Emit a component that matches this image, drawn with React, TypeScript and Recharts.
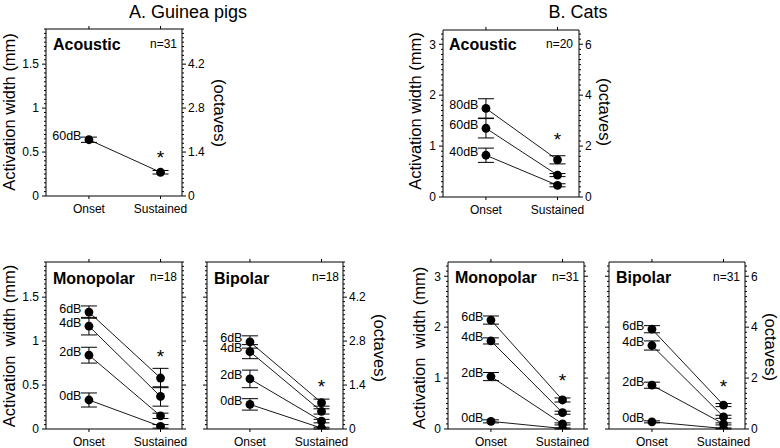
import React from 'react';
import { LineChart, Line, XAxis, YAxis, ErrorBar, LabelList, ReferenceDot } from 'recharts';

const FONT = '"Liberation Sans", Arial, Helvetica, sans-serif';

// ---------- shared categories / ticks ----------
const categories = ['Onset', 'Sustained'];
const xPositions = [1, 2];
const gpMmTicks = [0, 0.5, 1, 1.5];
const gpOctTicks = [0, 1.4, 2.8, 4.2];
const catMmTicks = [0, 1, 2, 3];
const catOctTicks = [0, 2, 4, 6];

// ---------- A. Guinea pigs: Acoustic ----------
const gpAcLevels = ['60dB'];
const gpAcOnset = [0.64];
const gpAcOnsetErr = [0.03];
const gpAcSust = [0.27];
const gpAcSustErr = [0.02];
const gpAcStar = 0.49;

// ---------- A. Guinea pigs: Monopolar ----------
const gpMonoLevels = ['6dB', '4dB', '2dB', '0dB'];
const gpMonoOnset = [1.33, 1.17, 0.84, 0.33];
const gpMonoOnsetErr = [0.07, 0.1, 0.09, 0.08];
const gpMonoSust = [0.58, 0.37, 0.15, 0.03];
const gpMonoSustErr = [0.11, 0.11, 0.03, 0.02];
const gpMonoStar = 0.88;

// ---------- A. Guinea pigs: Bipolar ----------
const gpBipLevels = ['6dB', '4dB', '2dB', '0dB'];
const gpBipOnset = [0.99, 0.88, 0.57, 0.28];
const gpBipOnsetErr = [0.07, 0.08, 0.1, 0.065];
const gpBipSust = [0.3, 0.2, 0.09, 0.01];
const gpBipSustErr = [0.04, 0.03, 0.02, 0.01];
const gpBipStar = 0.54;

// ---------- B. Cats: Acoustic ----------
const catAcLevels = ['80dB', '60dB', '40dB'];
const catAcOnset = [1.74, 1.35, 0.82];
const catAcOnsetErr = [0.19, 0.19, 0.14];
const catAcSust = [0.73, 0.43, 0.23];
const catAcSustErr = [0.08, 0.03, 0.03];
const catAcStar = 1.21;

// ---------- B. Cats: Monopolar ----------
const catMonoLevels = ['6dB', '4dB', '2dB', '0dB'];
const catMonoOnset = [2.14, 1.73, 1.03, 0.15];
const catMonoOnsetErr = [0.08, 0.06, 0.08, 0.03];
const catMonoSust = [0.57, 0.32, 0.1, 0.01];
const catMonoSustErr = [0.04, 0.03, 0.02, 0.01];
const catMonoStar = 1.04;

// ---------- B. Cats: Bipolar ----------
const catBipLevels = ['6dB', '4dB', '2dB', '0dB'];
const catBipOnset = [1.96, 1.64, 0.86, 0.14];
const catBipOnsetErr = [0.07, 0.09, 0.06, 0.02];
const catBipSust = [0.47, 0.24, 0.1, 0.01];
const catBipSustErr = [0.03, 0.03, 0.02, 0.01];
const catBipStar = 0.92;

function buildData(levels: string[], onset: number[], onsetErr: number[], sust: number[], sustErr: number[]) {
  return xPositions.map((x, i) => {
    const row: any = { x, cat: categories[i] };
    levels.forEach((lv, k) => {
      row['v' + k] = i === 0 ? onset[k] : sust[k];
      row['e' + k] = i === 0 ? onsetErr[k] : sustErr[k];
      row['l' + k] = i === 0 ? lv : null;
    });
    return row;
  });
}

function minorTicks(majors: number[], max: number) {
  const step = (majors[1] - majors[0]) / 10;
  const n = Math.floor(max / step + 1e-6);
  return Array.from({ length: n + 1 }, (_, i) => +(i * step).toFixed(5));
}

const isMajor = (majors: number[], v: number) => majors.some((m) => Math.abs(m - v) < 1e-6);

const makeLeftTick = (majors: number[], showLabel: boolean) => (props: any) => {
  const { x, y, payload } = props;
  const v = payload.value;
  const major = isMajor(majors, v);
  return (
    <g>
      <line x1={x} x2={x - (major ? 4 : 2)} y1={y} y2={y} stroke="#000" strokeWidth={1} />
      {major && showLabel ? (
        <text x={x - 7} y={y} dy="0.36em" textAnchor="end" fontSize={12} fontFamily={FONT} fill="#000">
          {String(v)}
        </text>
      ) : null}
    </g>
  );
};

const makeRightTick = (majors: number[], showLabel: boolean) => (props: any) => {
  const { x, y, payload } = props;
  const v = payload.value;
  const major = isMajor(majors, v);
  return (
    <g>
      <line x1={x} x2={x + (major ? 4 : 2)} y1={y} y2={y} stroke="#000" strokeWidth={1} />
      {major && showLabel ? (
        <text x={x + 6} y={y} dy="0.36em" textAnchor="start" fontSize={12} fontFamily={FONT} fill="#000">
          {String(v)}
        </text>
      ) : null}
    </g>
  );
};

const BottomTick = (props: any) => {
  const { x, y, payload } = props;
  const idx = xPositions.indexOf(payload.value);
  return (
    <g>
      <line x1={x} x2={x} y1={y} y2={y + 3} stroke="#000" strokeWidth={1} />
      <text x={x} y={y + 16.5} textAnchor="middle" fontSize={12} fontFamily={FONT} fill="#000">
        {categories[idx]}
      </text>
    </g>
  );
};

const TopTick = (props: any) => {
  const { x, y } = props;
  return <line x1={x} x2={x} y1={y} y2={y - 3} stroke="#000" strokeWidth={1} />;
};

const StarShape = (props: any) => (
  <text x={props.cx} y={props.cy + 11} textAnchor="middle" fontSize={19} fontFamily={FONT} fill="#000">
    *
  </text>
);

type PanelProps = {
  left: number;
  top: number;
  yMax: number;
  octMax: number;
  mmTicks: number[];
  octTicks: number[];
  levels: string[];
  data: any[];
  star: number;
  showLeft: boolean;
  showRight: boolean;
};

function Panel({ left, top, yMax, octMax, mmTicks, octTicks, levels, data, star, showLeft, showRight }: PanelProps) {
  const plotW = 136;
  const plotH = 167;
  const axW = 40;
  const topH = 4;
  const botH = 30;
  const mmMinor = minorTicks(mmTicks, yMax);
  const octMinor = minorTicks(octTicks, octMax);
  return (
    <div style={{ position: 'absolute', left: left - axW, top: top - topH }}>
      <LineChart width={axW * 2 + plotW} height={topH + plotH + botH} data={data} margin={{ top: 0, right: 0, bottom: 0, left: 0 }}>
        <XAxis
          xAxisId="b"
          type="number"
          dataKey="x"
          domain={[0.4, 2.3]}
          ticks={xPositions}
          interval={0}
          height={botH}
          tickSize={0}
          tickMargin={0}
          tickLine={false}
          axisLine={{ stroke: '#000' }}
          tick={BottomTick}
          allowDataOverflow
        />
        <XAxis
          xAxisId="t"
          orientation="top"
          type="number"
          dataKey="x"
          domain={[0.4, 2.3]}
          ticks={xPositions}
          interval={0}
          height={topH}
          tickSize={0}
          tickMargin={0}
          tickLine={false}
          axisLine={{ stroke: '#000' }}
          tick={TopTick}
          allowDataOverflow
        />
        <YAxis
          yAxisId="mm"
          type="number"
          domain={[0, yMax]}
          ticks={mmMinor}
          interval={0}
          width={axW}
          tickSize={0}
          tickMargin={0}
          tickLine={false}
          axisLine={{ stroke: '#000' }}
          tick={makeLeftTick(mmTicks, showLeft)}
          allowDataOverflow
        />
        <YAxis
          yAxisId="oct"
          orientation="right"
          type="number"
          domain={[0, octMax]}
          ticks={octMinor}
          interval={0}
          width={axW}
          tickSize={0}
          tickMargin={0}
          tickLine={false}
          axisLine={{ stroke: '#000' }}
          tick={makeRightTick(octTicks, showRight)}
          allowDataOverflow
        />
        {levels.map((lv, k) => (
          <Line
            key={lv}
            xAxisId="b"
            yAxisId="mm"
            type="linear"
            dataKey={'v' + k}
            stroke="#000"
            strokeWidth={0.9}
            dot={{ r: 4.4, fill: '#000', stroke: '#000', strokeWidth: 0 }}
            activeDot={false}
            isAnimationActive={false}
          >
            <ErrorBar dataKey={'e' + k} width={8} stroke="#000" strokeWidth={1} direction="y" isAnimationActive={false} />
            <LabelList
              dataKey={'l' + k}
              content={(p: any) =>
                p.value ? (
                  <text x={p.x - 7.5} y={p.y + 0.5} textAnchor="end" fontSize={12.5} fontFamily={FONT} fill="#000">
                    {p.value}
                  </text>
                ) : null
              }
            />
          </Line>
        ))}
        <ReferenceDot xAxisId="b" yAxisId="mm" x={2} y={star} r={0} shape={StarShape} />
      </LineChart>
    </div>
  );
}

const gpAcData = buildData(gpAcLevels, gpAcOnset, gpAcOnsetErr, gpAcSust, gpAcSustErr);
const gpMonoData = buildData(gpMonoLevels, gpMonoOnset, gpMonoOnsetErr, gpMonoSust, gpMonoSustErr);
const gpBipData = buildData(gpBipLevels, gpBipOnset, gpBipOnsetErr, gpBipSust, gpBipSustErr);
const catAcData = buildData(catAcLevels, catAcOnset, catAcOnsetErr, catAcSust, catAcSustErr);
const catMonoData = buildData(catMonoLevels, catMonoOnset, catMonoOnsetErr, catMonoSust, catMonoSustErr);
const catBipData = buildData(catBipLevels, catBipOnset, catBipOnsetErr, catBipSust, catBipSustErr);

const GP_MAX = 1.9;
const GP_OCT = 1.9 * 2.8;
const CAT_MAX = 3.28;
const CAT_OCT = 3.28 * 2;

const T = (p: any) => (
  <text
    x={p.x}
    y={p.y}
    textAnchor={p.anchor || 'start'}
    fontSize={p.size || 12}
    fontWeight={p.bold ? 'bold' : 'normal'}
    fontFamily={FONT}
    fill="#000"
    style={{ whiteSpace: 'pre' }}
    dominantBaseline={p.central ? 'central' : undefined}
    transform={p.rot ? `rotate(${p.rot} ${p.x} ${p.y})` : undefined}
  >
    {p.children}
  </text>
);

export default function App() {
  return (
    <div style={{ position: 'absolute', left: 0, top: 0, width: 780, height: 448, background: '#fff', overflow: 'hidden' }}>
      <Panel left={46} top={29} yMax={GP_MAX} octMax={GP_OCT} mmTicks={gpMmTicks} octTicks={gpOctTicks} levels={gpAcLevels} data={gpAcData} star={gpAcStar} showLeft showRight />
      <Panel left={46} top={262} yMax={GP_MAX} octMax={GP_OCT} mmTicks={gpMmTicks} octTicks={gpOctTicks} levels={gpMonoLevels} data={gpMonoData} star={gpMonoStar} showLeft showRight={false} />
      <Panel left={207} top={262} yMax={GP_MAX} octMax={GP_OCT} mmTicks={gpMmTicks} octTicks={gpOctTicks} levels={gpBipLevels} data={gpBipData} star={gpBipStar} showLeft={false} showRight />
      <Panel left={443} top={30} yMax={CAT_MAX} octMax={CAT_OCT} mmTicks={catMmTicks} octTicks={catOctTicks} levels={catAcLevels} data={catAcData} star={catAcStar} showLeft showRight />
      <Panel left={448} top={262} yMax={CAT_MAX} octMax={CAT_OCT} mmTicks={catMmTicks} octTicks={catOctTicks} levels={catMonoLevels} data={catMonoData} star={catMonoStar} showLeft showRight={false} />
      <Panel left={609} top={262} yMax={CAT_MAX} octMax={CAT_OCT} mmTicks={catMmTicks} octTicks={catOctTicks} levels={catBipLevels} data={catBipData} star={catBipStar} showLeft={false} showRight />

      <svg width={780} height={448} style={{ position: 'absolute', left: 0, top: 0, pointerEvents: 'none' }}>
        <T x={188} y={18} anchor="middle" size={18}>A. Guinea pigs</T>
        <T x={578} y={18} anchor="middle" size={18}>B. Cats</T>

        <T x={53} y={50} size={16} bold>Acoustic</T>
        <T x={177} y={48} anchor="end" size={12}>n=31</T>
        <T x={53} y={284} size={16} bold>Monopolar</T>
        <T x={177} y={281} anchor="end" size={12}>n=18</T>
        <T x={214} y={284} size={16} bold>Bipolar</T>
        <T x={339} y={281} anchor="end" size={12}>n=18</T>

        <T x={449} y={50} size={16} bold>Acoustic</T>
        <T x={573} y={48} anchor="end" size={12}>n=20</T>
        <T x={455} y={283} size={16} bold>Monopolar</T>
        <T x={579} y={281} anchor="end" size={12}>n=31</T>
        <T x={616} y={283} size={16} bold>Bipolar</T>
        <T x={740} y={281} anchor="end" size={12}>n=31</T>

        <T x={9} y={112} anchor="middle" size={16.5} central rot={-90}>Activation width (mm)</T>
        <T x={9} y={346} anchor="middle" size={16.5} central rot={-90}>{'Activation  width (mm)'}</T>
        <T x={415} y={111} anchor="middle" size={16.5} central rot={-90}>Activation width (mm)</T>
        <T x={419} y={348} anchor="middle" size={16.5} central rot={-90}>{'Activation  width (mm)'}</T>

        <T x={220} y={113} anchor="middle" size={16.5} central rot={90}>(octaves)</T>
        <T x={380} y={348} anchor="middle" size={16.5} central rot={90}>(octaves)</T>
        <T x={605} y={112} anchor="middle" size={16.5} central rot={90}>(octaves)</T>
        <T x={771} y={347} anchor="middle" size={16.5} central rot={90}>(octaves)</T>
      </svg>
    </div>
  );
}
